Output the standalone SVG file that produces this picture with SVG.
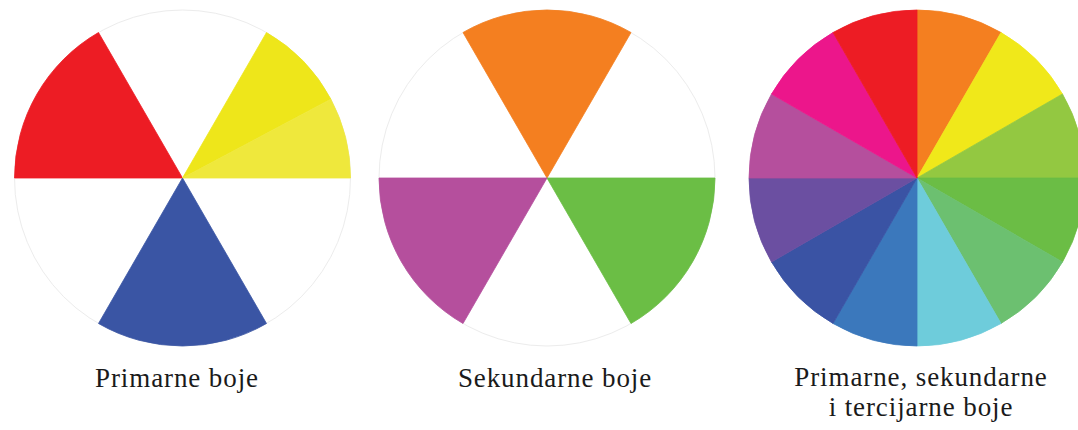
<svg xmlns="http://www.w3.org/2000/svg" width="1078" height="430" viewBox="0 0 1078 430">
<style>
.lbl{font-family:"Liberation Serif","Times New Roman",serif;font-size:27px;letter-spacing:0.9px;fill:#1a1a1a;text-anchor:middle}
.rim{fill:#ffffff;stroke:#ececec;stroke-width:1}
.s{stroke-width:0.8;stroke-linejoin:round}
</style>
<rect width="1078" height="430" fill="#ffffff"/>
<g id="wheel-primary">
<circle class="rim" cx="182.5" cy="178" r="168"/>
<path class="s" fill="#ED1C24" stroke="#ED1C24" d="M182.5 178 L14.5 178 A168 168 0 0 1 98.5 32.51 Z"/>
<path class="s" fill="#EEE61A" stroke="#EEE61A" d="M182.5 178 L266.5 32.51 A168 168 0 0 1 330.83 99.13 Z"/>
<path class="s" fill="#EFE83C" stroke="#EFE83C" d="M182.5 178 L330.83 99.13 A168 168 0 0 1 350.5 178 Z"/>
<path class="s" fill="#3A55A4" stroke="#3A55A4" d="M182.5 178 L266.5 323.49 A168 168 0 0 1 98.5 323.49 Z"/>
<text class="lbl" x="177" y="387">Primarne boje</text>
</g>
<g id="wheel-secondary">
<circle class="rim" cx="547" cy="178" r="168"/>
<path class="s" fill="#F47F20" stroke="#F47F20" d="M547 178 L463 32.51 A168 168 0 0 1 631 32.51 Z"/>
<path class="s" fill="#6BBE45" stroke="#6BBE45" d="M547 178 L715 178 A168 168 0 0 1 631 323.49 Z"/>
<path class="s" fill="#B54F9D" stroke="#B54F9D" d="M547 178 L463 323.49 A168 168 0 0 1 379 178 Z"/>
<text class="lbl" x="555" y="387">Sekundarne boje</text>
</g>
<g id="wheel-tertiary">
<path class="s" fill="#F47F20" stroke="#F47F20" d="M917 178 L917 10 A168 168 0 0 1 1001 32.51 Z"/>
<path class="s" fill="#F0E81A" stroke="#F0E81A" d="M917 178 L1001 32.51 A168 168 0 0 1 1062.49 94 Z"/>
<path class="s" fill="#93C841" stroke="#93C841" d="M917 178 L1062.49 94 A168 168 0 0 1 1085 178 Z"/>
<path class="s" fill="#6BBD45" stroke="#6BBD45" d="M917 178 L1085 178 A168 168 0 0 1 1062.49 262 Z"/>
<path class="s" fill="#6CC070" stroke="#6CC070" d="M917 178 L1062.49 262 A168 168 0 0 1 1001 323.49 Z"/>
<path class="s" fill="#6ECCDB" stroke="#6ECCDB" d="M917 178 L1001 323.49 A168 168 0 0 1 917 346 Z"/>
<path class="s" fill="#3B78BC" stroke="#3B78BC" d="M917 178 L917 346 A168 168 0 0 1 833 323.49 Z"/>
<path class="s" fill="#3A53A4" stroke="#3A53A4" d="M917 178 L833 323.49 A168 168 0 0 1 771.51 262 Z"/>
<path class="s" fill="#6B4FA1" stroke="#6B4FA1" d="M917 178 L771.51 262 A168 168 0 0 1 749 178 Z"/>
<path class="s" fill="#B54F9D" stroke="#B54F9D" d="M917 178 L749 178 A168 168 0 0 1 771.51 94 Z"/>
<path class="s" fill="#EC168B" stroke="#EC168B" d="M917 178 L771.51 94 A168 168 0 0 1 833 32.51 Z"/>
<path class="s" fill="#ED1C24" stroke="#ED1C24" d="M917 178 L833 32.51 A168 168 0 0 1 917 10 Z"/>
<text class="lbl" x="921" y="386">Primarne, sekundarne</text>
<text class="lbl" x="921" y="416">i tercijarne boje</text>
</g>
</svg>
